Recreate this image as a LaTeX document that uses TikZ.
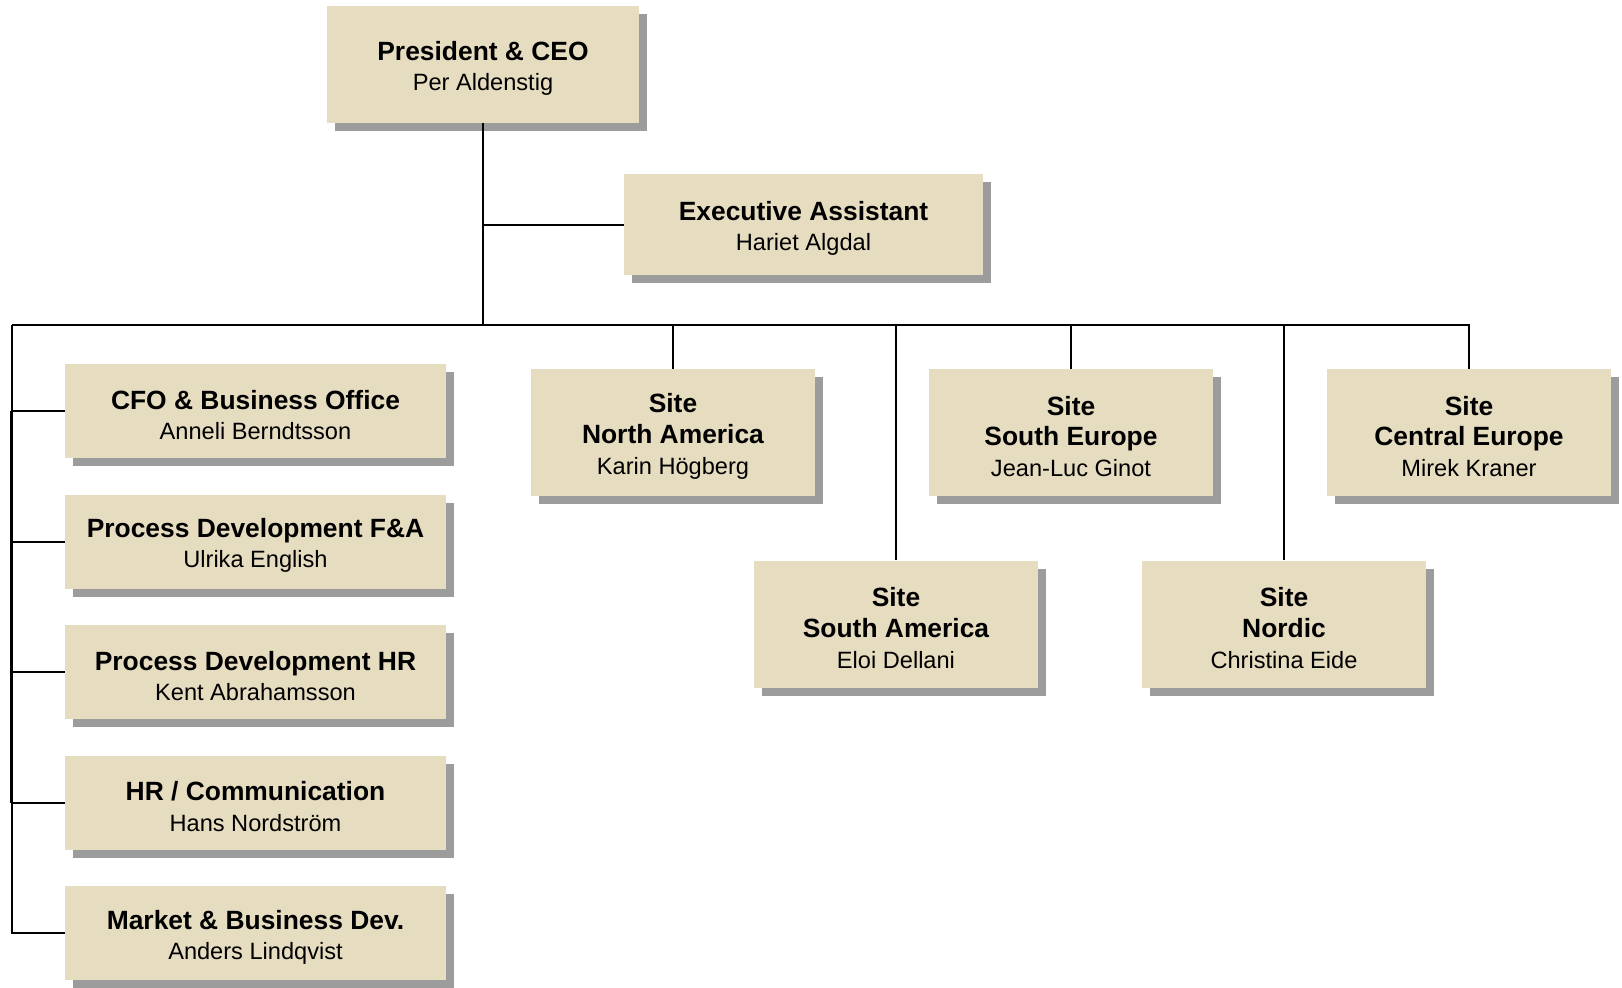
\documentclass[tikz,border=0pt]{standalone}
\usepackage{fontspec}
\setmainfont{Liberation Sans}
\usepackage{tikz}
\usetikzlibrary{positioning, shadows}

\definecolor{boxfill}{HTML}{E6DCC0}
\definecolor{shadowgray}{HTML}{9C9C9C}
\newcommand{\boxhead}[1]{{\fontsize{13.2}{15.3}\selectfont\bfseries\rule{0pt}{13.5pt}#1}}

\begin{document}
\begin{tikzpicture}[x=0.5pt, y=-0.5pt, box/.style={rectangle, fill=boxfill, align=center, font=\fontsize{11.8}{15.3}\selectfont, drop shadow={shadow xshift=4pt, shadow yshift=-4pt, fill=shadowgray, opacity=1}}, unit/.style={box, minimum width=190.5pt, minimum height=47pt}, site/.style={box, minimum width=142pt, minimum height=63.5pt}, link/.style={draw, line width=1pt}, node distance=17.9pt]
        \useasboundingbox (0,0) rectangle (1622,987);

        % top
        \node[box, minimum width=156pt, minimum height=58.5pt] (ceo) at (483,64.5) {\boxhead{President \& CEO}\\Per Aldenstig};
        \node[box, minimum width=179.5pt, minimum height=50.5pt] (ea) at (803.5,224.5) {\boxhead{Executive Assistant}\\Hariet Algdal};

        % staff column
        \node[unit] (cfo) at (255.5,411) {\boxhead{CFO \& Business Office}\\Anneli Berndtsson};
        \node[unit, below=of cfo] (pdfa) {\boxhead{Process Development F\&A}\\Ulrika English};
        \node[unit, below=of pdfa] (pdhr) {\boxhead{Process Development HR}\\Kent Abrahamsson};
        \node[unit, below=of pdhr] (hrc) {\boxhead{HR / Communication}\\Hans Nordstr\"om};
        \node[unit, below=of hrc] (mbd) {\boxhead{Market \& Business Dev.}\\Anders Lindqvist};

        % sites
        \node[site] (na) at (673,432.5) {\boxhead{Site}\\\boxhead{North America}\\Karin H\"ogberg};
        \node[site] (se) at (1071,432.5) {\boxhead{Site}\\\boxhead{South Europe}\\Jean-Luc Ginot};
        \node[site] (ce) at (1469,432.5) {\boxhead{Site}\\\boxhead{Central Europe}\\Mirek Kraner};
        \node[site] (sa) at (896,624) {\boxhead{Site}\\\boxhead{South America}\\Eloi Dellani};
        \node[site] (nordic) at (1284,624) {\boxhead{Site}\\\boxhead{Nordic}\\Christina Eide};

        % lines
        \coordinate (busw) at (12,325);
        \draw[link] (ceo.south) -- (ceo.south |- busw);
        \draw[link] (ceo.south |- ea.west) -- (ea.west);
        \draw[link] (busw) -| (ce.north);
        \foreach \s in {na, se, sa, nordic}
            \draw[link] (\s.north) -- (\s.north |- busw);
        \draw[link] (busw) |- (mbd.west);
        \foreach \u in {cfo, pdfa, pdhr, hrc}
            \draw[link] (busw |- \u.west) -- (\u.west);
        \draw[link] ([xshift=-0.6pt]busw |- cfo.west) -- ([xshift=-0.6pt]busw |- hrc.west);
    \end{tikzpicture}
\end{document}
